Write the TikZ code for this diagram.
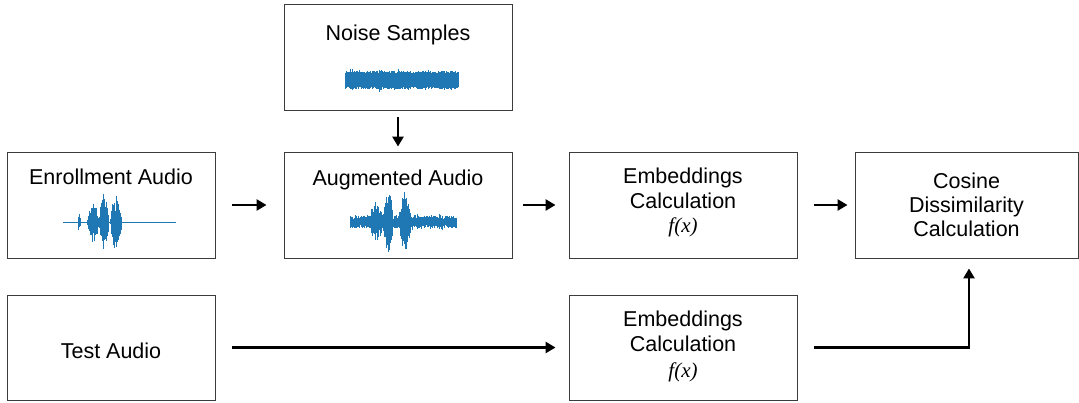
\documentclass[tikz,border=0pt]{standalone}
\usepackage{fontspec}
\setmainfont{Liberation Sans}
\newfontfamily\fxfont{Liberation Serif}
\usetikzlibrary{arrows.meta}
\definecolor{waveblue}{RGB}{31,119,180}
\definecolor{boxline}{RGB}{60,60,60}
\tikzset{
  box/.style={draw=boxline, line width=0.9pt, inner sep=0pt, minimum height=106pt},
  txt/.style={anchor=base, inner sep=0pt, font=\fontsize{21.5}{24}\selectfont},
  fx/.style={anchor=base, inner sep=0pt, font=\fxfont\itshape\fontsize{21}{24}\selectfont},
  arr/.style={line width=2.7pt, -{Triangle[length=10pt,width=11pt]}},
  wave/.style={waveblue, line width=0.75pt}
}
% #1 x0, #2 y0, #3 length, #4 minimum random fraction, #5 envelope in \t
\newcommand{\drawwave}[5]{%
  \foreach \t in {0,0.5,...,#3}{%
    \pgfmathsetmacro\amp{#5}%
    \pgfmathsetmacro\up{\amp*(#4+(1-#4)*rnd)}%
    \pgfmathsetmacro\dn{\amp*(#4+(1-#4)*rnd)}%
    \draw[wave] (#1+\t,#2-\up) -- (#1+\t,#2+\dn);
  }%
}
\begin{document}
\begin{tikzpicture}[x=1pt,y=-1pt]
\useasboundingbox (0,0) rectangle (1079,402);
\pgfmathsetseed{7}
% boxes
\node[box, minimum width=228pt] (noise) at (398,57) {};
\node[box, minimum width=208pt] (enroll) at (111,205) {};
\node[box, minimum width=228pt] (aug) at (398,205) {};
\node[box, minimum width=228pt] (emb1) at (683,205) {};
\node[box, minimum width=223pt] (cos) at (966.5,205) {};
\node[box, minimum width=208pt, minimum height=105pt] (test) at (111,347.5) {};
\node[box, minimum width=228pt, minimum height=105pt] (emb2) at (683,347.5) {};
% texts
\node[txt] (tnoise) at (398,40) {Noise Samples};
\node[txt] (tenroll) at (111,184.5) {Enrollment Audio};
\node[txt] (taug) at (398,185) {Augmented Audio};
\node[txt] (te1a) at (683,183) {Embeddings};
\node[txt] (te1b) at (683,208) {Calculation};
\node[fx] (te1c) at (683,232) {f(x)};
\node[txt] (tc1) at (966.5,188) {Cosine};
\node[txt] (tc2) at (966.5,212) {Dissimilarity};
\node[txt] (tc3) at (966.5,236) {Calculation};
\node[txt] (ttest) at (111,358) {Test Audio};
\node[txt] (te2a) at (683,326) {Embeddings};
\node[txt] (te2b) at (683,351) {Calculation};
\node[fx] (te2c) at (683,377) {f(x)};
% waveforms
\drawwave{345}{80}{113}{0.7}{9+3*(rnd^8)}
\drawwave{63}{222.5}{112}{0.35}{0.6+8*max(0,1-((\t-16)/1.5)^2)+20*max(0,1-((\t-30)/6)^2)+29*max(0,1-((\t-41)/5)^2)+28*max(0,1-((\t-53)/6)^2)}
\drawwave{350}{222}{106}{0.4}{6.5+2*(rnd^6)+15*max(0,1-((\t-26)/6)^2)+24*max(0,1-((\t-38)/5)^2)+24*max(0,1-((\t-55)/6)^2)}
% arrows
\draw[arr, shorten <=7pt, shorten >=5pt] (noise.south) -- (aug.north);
\draw[arr, shorten <=17pt, shorten >=17pt] (enroll.east) -- (aug.west);
\draw[arr, shorten <=11pt, shorten >=13pt] (aug.east) -- (emb1.west);
\draw[arr, shorten <=17pt, shorten >=7pt] (emb1.east) -- (cos.west);
\draw[arr, shorten <=17pt, shorten >=13pt] (test.east) -- (emb2.west);
\coordinate (elbow) at ([xshift=2.5pt]cos.south);
\draw[arr, shorten <=17pt, shorten >=10pt] (emb2.east) -| (elbow);
\end{tikzpicture}
\end{document}
